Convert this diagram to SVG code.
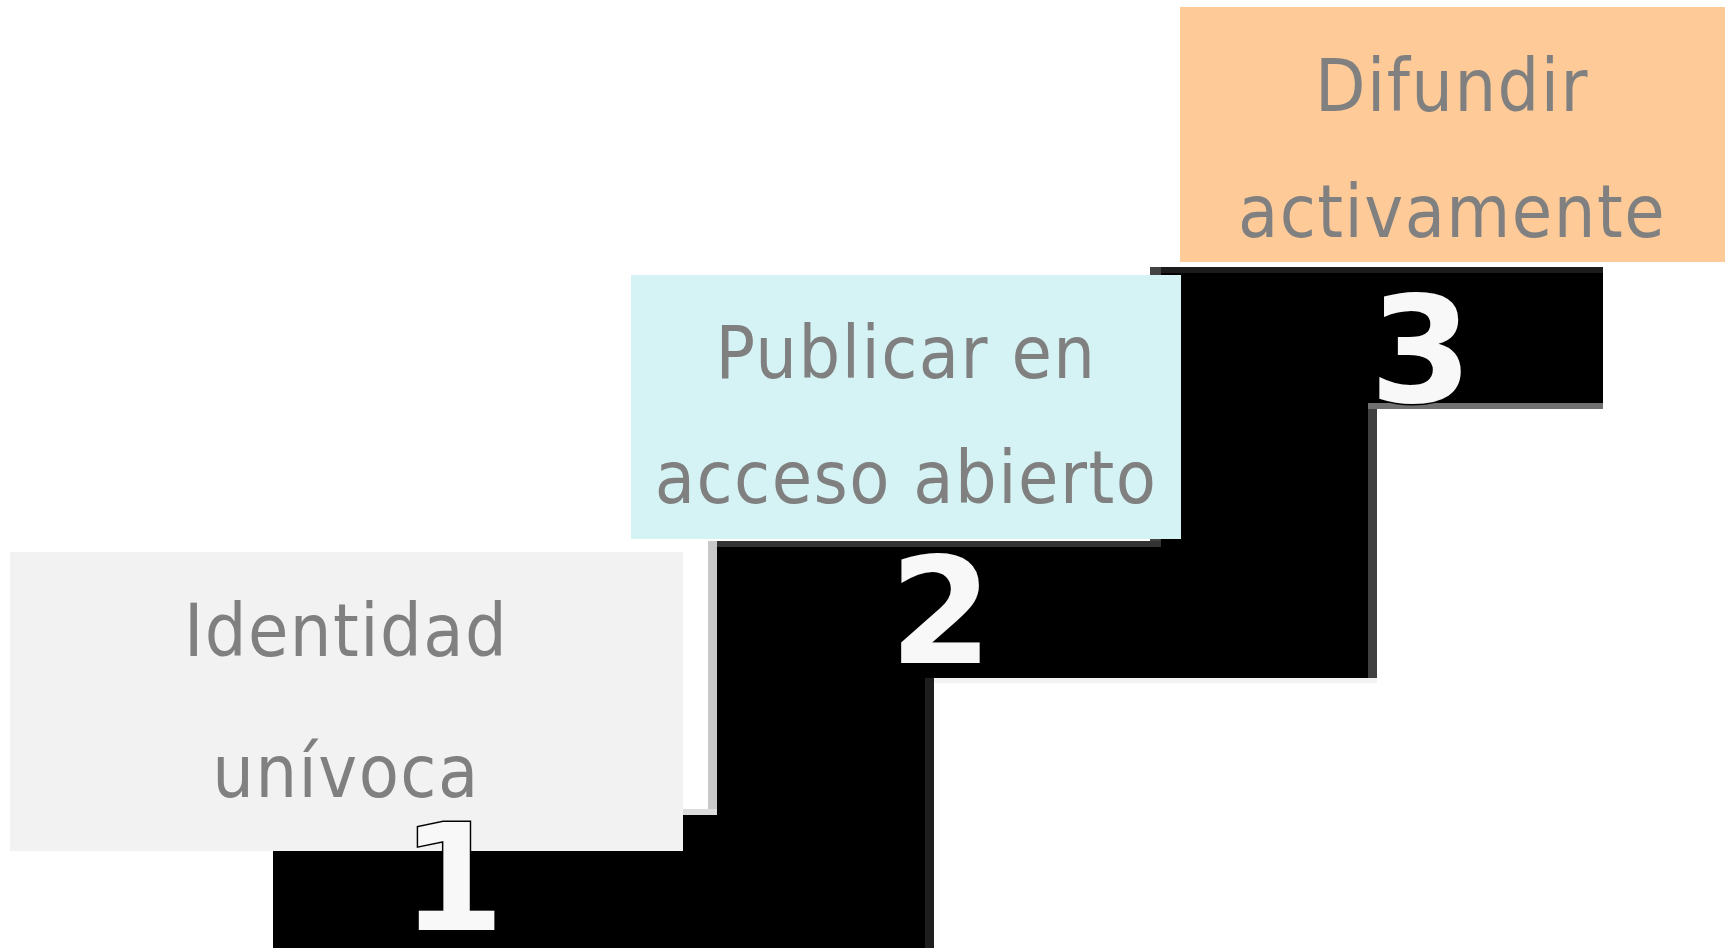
<svg xmlns="http://www.w3.org/2000/svg" width="1731" height="948" viewBox="0 0 1731 948">
<style>
.lbl{font-family:"DejaVu Sans Condensed","DejaVu Sans",sans-serif;font-size:73px;letter-spacing:1.5px;fill:#808080;text-anchor:middle}
.num{font-family:"DejaVu Sans",Verdana,sans-serif;font-weight:bold;font-size:148px;fill:#f8f8f8;text-anchor:middle;stroke:#000;stroke-width:3;paint-order:stroke}
</style>
<rect width="1731" height="948" fill="#ffffff"/>
<g id="connectors">
<path d="M273,815 H717 V547 H1161 V273 H1603 V403 H1368 V678 H925 V948 H273 Z" fill="#000"/>
<rect x="1150" y="267" width="453" height="6" fill="#1c1c1c"/>
<rect x="1150" y="267" width="11" height="280" fill="#444"/>
<rect x="708" y="541" width="453" height="6" fill="#333"/>
<rect x="708" y="541" width="9" height="274" fill="#c8c8c8"/>
<rect x="683" y="809" width="34" height="6" fill="#dcdcdc"/>
<rect x="925" y="678" width="9" height="270" fill="#1e1e1e"/>
<rect x="934" y="678" width="443" height="5" fill="#f2f2f2"/>
<rect x="1368" y="403" width="9" height="275" fill="#404040"/>
<rect x="1368" y="403" width="235" height="6" fill="#707070"/>
</g>
<g id="node1">
<rect x="10" y="552" width="673" height="299" fill="#f2f2f2"/>
<text class="lbl" x="346" y="656">Identidad</text>
<text class="lbl" x="346" y="797">unívoca</text>
<text class="num" x="453" y="930">1</text>
</g>
<g id="node2">
<rect x="631" y="275" width="550" height="264" fill="#d5f3f4"/>
<text class="lbl" x="906" y="378">Publicar en</text>
<text class="lbl" x="906" y="503">acceso abierto</text>
<text class="num" x="941" y="663">2</text>
</g>
<g id="node3">
<rect x="1180" y="7" width="545" height="255" fill="#fdca98"/>
<text class="lbl" x="1452" y="111">Difundir</text>
<text class="lbl" x="1452" y="237">activamente</text>
<text class="num" x="1421" y="402">3</text>
</g>
</svg>
